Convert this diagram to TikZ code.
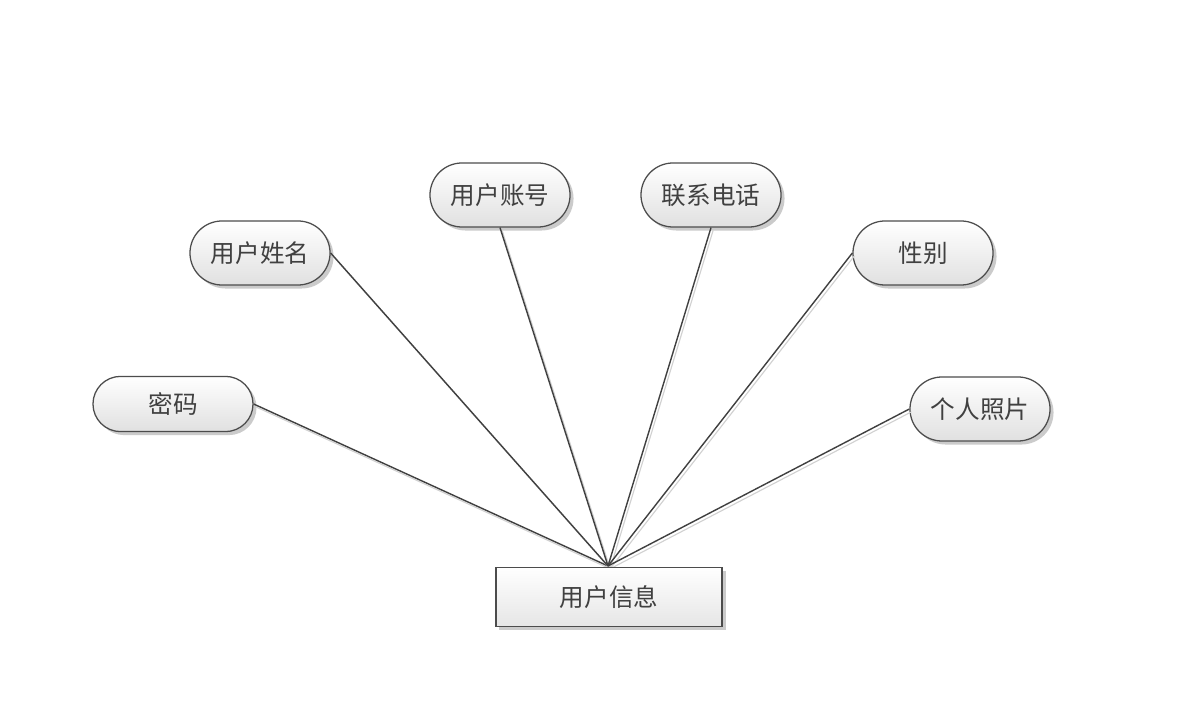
\documentclass[tikz,border=0pt]{standalone}
\usepackage{fontspec}
\newfontfamily\cjk{Noto Sans CJK SC}
\usetikzlibrary{shadows,shapes.misc}
\begin{document}
\begin{tikzpicture}[x=0.025cm,y=-0.025cm,
  attr/.style={draw=black!70, line width=0.9pt, rounded rectangle, top color=white, bottom color=black!12,
    minimum width=3.5cm, minimum height=1.6cm, inner sep=0pt,
    font=\cjk\fontsize{17.5}{20}\selectfont, text=black!75,
    drop shadow={shadow xshift=2.5pt, shadow yshift=-2.5pt, fill=black!25, opacity=0.8}},
  ent/.style={draw=black!70, line width=0.9pt, rectangle, top color=white, bottom color=black!10,
    minimum width=5.65cm, minimum height=1.48cm, inner sep=0pt,
    font=\cjk\fontsize{17.5}{20}\selectfont, text=black!75,
    drop shadow={shadow xshift=2.5pt, shadow yshift=-2.5pt, fill=black!25, opacity=0.8}},
  link/.style={draw=black!75, line width=1pt,
    preaction={draw=black!18, line width=0.8pt, transform canvas={shift={(1.5pt,-2pt)}}}}
]
\useasboundingbox[fill=white] (0,0) rectangle (1189,720);
\coordinate (c) at (608,566);
\node[attr, minimum width=4cm, minimum height=1.38cm] (mima) at (173,404) {密码};
\node[attr] (xingming) at (260,253) {用户姓名};
\node[attr] (zhanghao) at (500,195) {用户账号};
\node[attr] (dianhua) at (711,195) {联系电话};
\node[attr] (xingbie) at (923,253) {性别};
\node[attr] (zhaopian) at (980,409) {个人照片};
\draw[link] (mima.east) -- (c);
\draw[link] (xingming.east) -- (c);
\draw[link] (zhanghao.south) -- (c);
\draw[link] (dianhua.south) -- (c);
\draw[link] (xingbie.west) -- (c);
\draw[link] (zhaopian.west) -- (c);
\node[ent] (xinxi) at (609,597) {用户信息};
\end{tikzpicture}
\end{document}
